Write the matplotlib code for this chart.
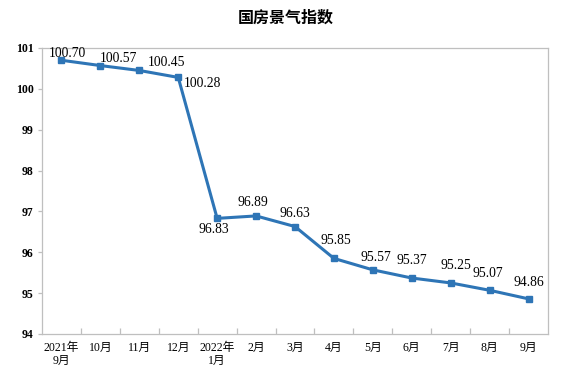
import matplotlib
matplotlib.use("Agg")
import matplotlib.pyplot as plt
import numpy as np

plt.rcParams["font.family"] = ["Liberation Serif", "Noto Sans CJK SC"]

months = ["2021年\n9月", "10月", "11月", "12月", "2022年\n1月", "2月", "3月",
          "4月", "5月", "6月", "7月", "8月", "9月"]
index_values = [100.70, 100.57, 100.45, 100.28, 96.83, 96.89, 96.63,
                95.85, 95.57, 95.37, 95.25, 95.07, 94.86]
# label offsets in pixels (dx, dy)
label_offsets = [(6, 7), (18, 7), (27, 8), (24, -6), (-3, -11), (-3, 13), (0, 13),
                 (2, 18), (3, 12), (0, 18), (5, 17), (-2, 17), (0, 16)]

fig = plt.figure(figsize=(5.71, 3.8), dpi=100)
ax = fig.add_axes([42 / 571, 1 - 334 / 380, 506 / 571, 286 / 380])

x = np.arange(len(months))
line_color = "#2E75B6"
ax.plot(x, index_values, color=line_color, linewidth=2.2, marker="s",
        markersize=4, markerfacecolor=line_color, markeredgecolor=line_color)

for xi, v, (dx, dy) in zip(x, index_values, label_offsets):
    ax.annotate(f"{v:.2f}", (xi, v), xytext=(dx, dy), textcoords="offset pixels",
                ha="center", va="center", fontsize=9.8, color="#000000")

ax.set_xlim(-0.5, len(months) - 0.5)
ax.set_ylim(94, 101)
ax.set_yticks(range(94, 102))
ax.tick_params(axis="y", length=3, width=0.9, color="#BFBFBF", labelsize=8.5, pad=3)
for lbl in ax.get_yticklabels():
    lbl.set_fontweight("bold")

ax.set_xticks(x)
ax.set_xticklabels(months, fontsize=8.5, linespacing=1.05)
ax.tick_params(axis="x", which="major", length=0, pad=6)
ax.set_xticks(np.arange(0.5, len(months) - 1), minor=True)
ax.tick_params(axis="x", which="minor", length=4, width=0.9, direction="in", color="#BFBFBF")

for s in ax.spines.values():
    s.set_color("#BFBFBF")
    s.set_linewidth(0.9)

fig.text(0.5, 1 - 18 / 380, "国房景气指数", ha="center", va="center",
         fontsize=11.5, fontweight="bold", family=["Noto Sans CJK SC"])

fig.savefig("out.png", dpi=100)
